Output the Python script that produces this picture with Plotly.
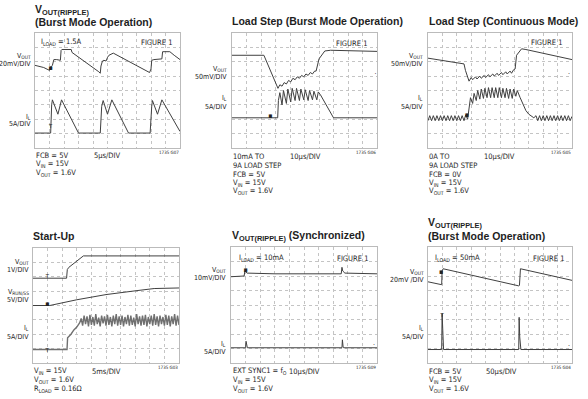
import plotly.graph_objects as go

W, H = 588, 399
FONT_T = "Liberation Sans, Arial, sans-serif"
FONT = "DejaVu Sans Condensed, Liberation Sans, sans-serif"
TXT = "#1e1e1e"
TRACE = "#404040"

# ---------------- data (scope divisions: x 0..10, y 0..8) ----------------
p1_vout_x = [0, 0.6, 1.0, 1.05, 1.2, 1.3, 1.5, 1.75, 1.8, 1.85, 2.5, 2.55, 4.4, 4.5, 4.55, 4.65, 4.75, 4.9, 5.0, 5.1, 5.4, 6.5, 7.9, 8.0, 8.05, 8.2, 8.5, 8.75, 8.8, 9.3, 9.6, 10]
p1_vout_y = [5.75, 5.6, 5.4, 5.6, 5.75, 6.15, 6.15, 6.1, 6.8, 6.85, 6.85, 6.65, 5.3, 5.2, 5.7, 6.05, 6.1, 6.05, 6.3, 6.45, 6.6, 6.0, 5.25, 5.5, 6.1, 6.15, 6.15, 6.2, 6.7, 6.7, 6.45, 6.15]
p1_il_x = [0, 1.08, 1.15, 1.2, 1.58, 1.83, 3.0, 4.5, 4.6, 4.7, 5.0, 5.3, 6.45, 7.94, 8.05, 8.1, 8.45, 8.75, 10]
p1_il_y = [1.04, 1.04, 3.0, 3.35, 2.35, 3.35, 1.04, 1.04, 2.9, 3.3, 2.35, 3.35, 1.04, 1.04, 2.9, 3.3, 2.35, 3.35, 1.15]

p2_vout_x = [0, 2.2, 3.17, 3.3, 3.45, 3.6, 3.75, 3.9, 4.05, 4.2, 4.35, 4.5, 4.65, 4.8, 4.95, 5.1, 5.25, 5.4, 5.55, 5.7, 5.8, 6.0, 6.4, 6.8, 10]
p2_vout_y = [6.45, 6.45, 4.15, 4.4, 4.3, 4.55, 4.45, 4.7, 4.6, 4.85, 4.75, 4.95, 4.85, 5.05, 4.95, 5.15, 5.05, 5.25, 5.15, 5.35, 5.35, 6.2, 6.75, 6.8, 6.72]
p2_il_x = [0, 3.15, 3.2, 3.3, 3.45, 3.55, 3.75, 3.85, 4.05, 4.15, 4.35, 4.45, 4.65, 4.75, 4.95, 5.05, 5.25, 5.35, 5.55, 5.65, 5.85, 5.95, 6.1, 7.0, 10]
p2_il_y = [2.1, 2.1, 3.3, 3.85, 3.0, 4.0, 3.1, 4.1, 3.2, 4.15, 3.3, 4.15, 3.3, 4.1, 3.35, 4.05, 3.3, 4.0, 3.35, 3.95, 3.35, 3.9, 3.7, 2.1, 2.1]

p3_vout_x = [0, 1.0, 2.0, 2.5, 2.6, 2.85, 3.0, 3.1, 3.3, 3.4, 3.6, 3.7, 3.9, 4.0, 4.2, 4.3, 4.5, 4.6, 4.8, 4.9, 5.1, 5.2, 5.4, 5.5, 5.7, 5.8, 5.95, 6.05, 6.15, 6.5, 6.8, 7.5, 8.2, 9.0, 10]
p3_vout_y = [6.25, 6.1, 5.95, 5.85, 5.4, 4.65, 4.9, 4.75, 4.95, 4.8, 5.0, 4.85, 5.05, 4.9, 5.1, 4.95, 5.15, 5.0, 5.2, 5.05, 5.25, 5.1, 5.3, 5.15, 5.35, 5.2, 5.45, 5.5, 6.45, 6.9, 6.85, 6.7, 6.55, 6.4, 6.15]
p3_il_x = [0, 0.12, 0.25, 0.37, 0.5, 0.62, 0.75, 0.87, 1.0, 1.12, 1.25, 1.37, 1.5, 1.62, 1.75, 1.87, 2.0, 2.12, 2.25, 2.37, 2.5, 2.62, 2.75,
           2.85, 2.95, 3.1, 3.2, 3.35, 3.45, 3.6, 3.7, 3.85, 3.95, 4.1, 4.2, 4.35, 4.45, 4.6, 4.7, 4.85, 4.95, 5.1, 5.2, 5.35, 5.45, 5.6, 5.7, 5.85, 5.95, 6.1, 6.2,
           6.4, 6.6, 6.8, 7.0, 7.2, 7.35, 7.5, 7.62, 7.75, 7.87, 8.0, 8.12, 8.25, 8.37, 8.5, 8.62, 8.75, 8.87, 9.0, 9.12, 9.25, 9.37, 9.5, 9.62, 9.75, 9.87, 10]
p3_il_y = [1.9, 2.25, 1.9, 2.25, 1.9, 2.25, 1.9, 2.25, 1.9, 2.25, 1.9, 2.25, 1.9, 2.25, 1.9, 2.25, 1.9, 2.25, 1.9, 2.25, 1.9, 2.3, 2.0,
           3.0, 3.5, 3.1, 3.8, 3.3, 4.0, 3.4, 4.1, 3.45, 4.15, 3.5, 4.2, 3.5, 4.2, 3.5, 4.2, 3.5, 4.2, 3.5, 4.15, 3.5, 4.15, 3.45, 4.1, 3.45, 4.1, 3.6, 4.0,
           3.5, 3.0, 2.6, 2.35, 2.2, 2.1, 2.25, 1.9, 2.25, 1.9, 2.25, 1.9, 2.25, 1.9, 2.25, 1.9, 2.25, 1.9, 2.25, 1.9, 2.25, 1.9, 2.25, 1.9, 2.25, 1.9, 2.2]

p4_vout_x = [0, 2.3, 2.35, 2.45, 3.45, 10]
p4_vout_y = [5.9, 5.9, 6.5, 6.65, 7.45, 7.45]
p4_run_x = [0, 1.15, 3.0, 5.0, 7.0, 8.3, 10]
p4_run_y = [4.0, 4.0, 4.4, 4.76, 5.02, 5.18, 5.22]
p4_il_x = [0, 2.33, 2.37, 2.6, 2.8, 3.0, 3.2,
           3.3, 3.4, 3.5, 3.6, 3.7, 3.8, 3.9, 4.0, 4.1, 4.2, 4.3, 4.4, 4.5, 4.6, 4.7, 4.8, 4.9, 5.0, 5.1, 5.2, 5.3, 5.4, 5.5, 5.6, 5.7, 5.8, 5.9, 6.0,
           6.1, 6.2, 6.3, 6.4, 6.5, 6.6, 6.7, 6.8, 6.9, 7.0, 7.1, 7.2, 7.3, 7.4, 7.5, 7.6, 7.7, 7.8, 7.9, 8.0, 8.1, 8.2, 8.3, 8.4, 8.5, 8.6, 8.7, 8.8, 8.9, 9.0,
           9.1, 9.2, 9.3, 9.4, 9.5, 9.6, 9.7, 9.8, 9.9, 10]
p4_il_y = [0.94, 0.94, 1.75, 2.0, 2.3, 2.5, 2.8,
           3.1, 2.6, 3.3, 2.7, 3.25, 2.55, 3.35, 2.65, 3.2, 2.6, 3.4, 2.7, 3.15, 2.55, 3.3, 2.75, 3.25, 2.6, 3.35, 2.65, 3.2, 2.55, 3.3, 2.7, 3.4, 2.6, 3.25, 2.65,
           3.3, 2.55, 3.2, 2.7, 3.35, 2.6, 3.3, 2.65, 3.15, 2.55, 3.4, 2.7, 3.25, 2.6, 3.3, 2.65, 3.35, 2.55, 3.2, 2.7, 3.3, 2.6, 3.4, 2.65, 3.25, 2.55, 3.3, 2.7, 3.2, 2.6,
           3.35, 2.65, 3.3, 2.55, 3.25, 2.7, 3.4, 2.6, 3.3, 2.65]

p5_vout_x = [0, 0.9, 0.95, 1.0, 1.1, 3.0, 5.0, 7.55, 7.6, 7.65, 7.8, 10]
p5_vout_y = [5.95, 6.0, 6.35, 6.3, 6.2, 6.15, 6.15, 6.15, 6.6, 6.35, 6.2, 6.15]
p5_il_x = [0, 1.0, 1.03, 1.08, 1.12, 7.6, 7.63, 7.68, 7.72, 10]
p5_il_y = [1.05, 1.05, 1.5, 1.1, 1.05, 1.05, 1.6, 1.1, 1.05, 1.05]

p6_vout_x = [0, 0.95, 0.98, 1.05, 6.3, 6.35, 6.42, 10]
p6_vout_y = [5.6, 5.4, 6.35, 6.5, 5.32, 5.35, 6.5, 5.7]
p6_il_x = [0, 0.95, 0.98, 1.02, 1.08, 6.3, 6.33, 6.37, 6.45, 10]
p6_il_y = [0.93, 0.93, 3.4, 2.0, 0.93, 0.93, 3.15, 1.8, 0.93, 0.93]

# scope channel reference markers (per panel): x, y, glyph
mk_x = [[1.08, 1.08], [2.64, 9.9], [2.7, 9.8], [0.98, 0.98, 0.98], [1.0, 9.8], [0.92, 0.97, 9.8]]
mk_y = [[5.56, 1.5], [2.2, 5.1], [2.3, 5.1], [6.02, 4.08, 0.9], [6.43, 1.2], [6.24, 3.3, 1.15]]
mk_t = [["▪", "т"], ["▪", "·"], ["▪", "·"], ["т", "▪", "т"], ["▪", "·"], ["▪", "т", "·"]]

boxes = [(35, 180, 33, 148), (232, 377, 33, 148), (428, 572, 33, 148),
         (33, 179, 248, 363), (231, 377, 247, 363), (428, 572, 247, 363)]

traces = [
    [(p1_vout_x, p1_vout_y), (p1_il_x, p1_il_y)],
    [(p2_vout_x, p2_vout_y), (p2_il_x, p2_il_y)],
    [(p3_vout_x, p3_vout_y), (p3_il_x, p3_il_y)],
    [(p4_vout_x, p4_vout_y), (p4_run_x, p4_run_y), (p4_il_x, p4_il_y)],
    [(p5_vout_x, p5_vout_y), (p5_il_x, p5_il_y)],
    [(p6_vout_x, p6_vout_y), (p6_il_x, p6_il_y)],
]

fig = go.Figure()
layout = dict(width=W, height=H, margin=dict(l=0, r=0, t=0, b=0), autosize=False,
              paper_bgcolor="white", plot_bgcolor="white", showlegend=False)

for i, (bx, tr) in enumerate(zip(boxes, traces)):
    n = "" if i == 0 else str(i + 1)
    x0, x1, y0, y1 = bx
    common = dict(dtick=1, showgrid=True, gridcolor="#c4c4c4", griddash="dot", gridwidth=1,
                  showline=True, mirror=True, linecolor="#bbbbbb", linewidth=1,
                  showticklabels=False, ticks="", zeroline=False, fixedrange=True)
    layout["xaxis" + n] = dict(domain=[x0 / W, x1 / W], range=[0, 10], anchor="y" + n, **common)
    layout["yaxis" + n] = dict(domain=[1 - y1 / H, 1 - y0 / H], range=[0, 8], anchor="x" + n, **common)
    for k, (xs, ys) in enumerate(tr):
        w = 1.4 if (i == 3 and k == 2) else 1
        col = "#707070" if (i == 3 and k == 2) else TRACE
        fig.add_trace(go.Scatter(x=xs, y=ys, mode="lines", line=dict(color=col, width=w),
                                 xaxis="x" + n, yaxis="y" + n, hoverinfo="skip"))
    fig.add_trace(go.Scatter(x=mk_x[i], y=mk_y[i], mode="text", text=mk_t[i],
                             textfont=dict(family=FONT, size=7, color="#222"),
                             xaxis="x" + n, yaxis="y" + n, hoverinfo="skip"))

fig.update_layout(**layout)

anns = []
def A(x, y, text, size=7.5, xa="left", bold=False, fam=None):
    if bold:
        text = "<b>" + text + "</b>"
    anns.append(dict(x=x / W, y=1 - y / H, xref="paper", yref="paper", text=text, showarrow=False,
                     xanchor=xa, yanchor="middle", align=xa, borderpad=0,
                     font=dict(family=fam or FONT, size=size, color=TXT)))

TS = 10.5
def T(x, y, text):
    A(x, y, text, TS, bold=True, fam=FONT_T)

T(34, 10, "V<sub>OUT(RIPPLE)</sub>")
T(34, 22, "(Burst Mode Operation)")
T(231, 21, "Load Step (Burst Mode Operation)")
T(428, 21, "Load Step (Continuous Mode)")
T(32, 236, "Start-Up")
T(231, 236, "V<sub>OUT(RIPPLE)</sub> (Synchronized)")
T(427, 223, "V<sub>OUT(RIPPLE)</sub>")
T(427, 236, "(Burst Mode Operation)")

LS = 7
A(32, 56, "V<sub>OUT</sub>", LS, xa="right"); A(32, 64, "20mV/DIV", LS, xa="right")
A(32, 117, "I<sub>L</sub>", LS, xa="right"); A(32, 124, "5A/DIV", LS, xa="right")
A(228, 69, "V<sub>OUT</sub>", LS, xa="right"); A(228, 77, "50mV/DIV", LS, xa="right")
A(228, 98, "I<sub>L</sub>", LS, xa="right"); A(228, 107, "5A/DIV", LS, xa="right")
A(424, 56, "V<sub>OUT</sub>", LS, xa="right"); A(424, 64, "50mV/DIV", LS, xa="right")
A(424, 98, "I<sub>L</sub>", LS, xa="right"); A(424, 107, "5A/DIV", LS, xa="right")
A(30, 262, "V<sub>OUT</sub>", LS, xa="right"); A(30, 270, "1V/DIV", LS, xa="right")
A(30, 292, "V<sub>RUN/SS</sub>", LS, xa="right"); A(30, 300, "5V/DIV", LS, xa="right")
A(30, 328, "I<sub>L</sub>", LS, xa="right"); A(30, 337, "5A/DIV", LS, xa="right")
A(227, 270, "V<sub>OUT</sub>", LS, xa="right"); A(227, 278, "10mV/DIV", LS, xa="right")
A(227, 344, "I<sub>L</sub>", LS, xa="right"); A(227, 352, "5A/DIV", LS, xa="right")
A(425, 272, "V<sub>OUT</sub>", LS, xa="right"); A(425, 280, "20mV /DIV", LS, xa="right")
A(425, 328, "I<sub>L</sub>", LS, xa="right"); A(425, 337, "5A/DIV", LS, xa="right")

A(40, 42, "I<sub>LOAD</sub> = 1.5A"); A(173, 42, "FIGURE 1", xa="right")
A(368, 43, "FIGURE 1", xa="right")
A(563, 42, "FIGURE 1", xa="right")
A(238, 258, "I<sub>LOAD</sub> = 10mA"); A(369, 258, "FIGURE 1", xa="right")
A(434, 258, "I<sub>LOAD</sub> = 50mA"); A(565, 258, "FIGURE 1", xa="right")

A(35, 155, "FCB = 5V"); A(35, 164, "V<sub>IN</sub> = 15V"); A(35, 173, "V<sub>OUT</sub> = 1.6V")
A(107, 155, "5μs/DIV", xa="center")
A(232, 157, "10mA TO"); A(232, 165.5, "9A LOAD STEP"); A(232, 174, "FCB = 5V")
A(232, 182.5, "V<sub>IN</sub> = 15V"); A(232, 191, "V<sub>OUT</sub> = 1.6V")
A(305, 157, "10μs/DIV", xa="center")
A(428, 157, "0A TO"); A(428, 165.5, "9A LOAD STEP"); A(428, 174, "FCB = 0V")
A(428, 182.5, "V<sub>IN</sub> = 15V"); A(428, 191, "V<sub>OUT</sub> = 1.6V")
A(500, 157, "10μs/DIV", xa="center")
A(33, 371, "V<sub>IN</sub> = 15V"); A(33, 380, "V<sub>OUT</sub> = 1.6V"); A(33, 389, "R<sub>LOAD</sub> = 0.16Ω")
A(106, 371, "5ms/DIV", xa="center")
A(232, 371, "EXT SYNC1 = f<sub>O</sub>"); A(232, 380, "V<sub>IN</sub> = 15V"); A(232, 389, "V<sub>OUT</sub> = 1.6V")
A(304, 371, "10μs/DIV", xa="center")
A(428, 371, "FCB = 5V"); A(428, 380, "V<sub>IN</sub> = 15V"); A(428, 389, "V<sub>OUT</sub> = 1.6V")
A(501, 371, "50μs/DIV", xa="center")

for (x, y, t) in [(180, 152, "1735 G07"), (377, 152, "1735 G06"), (572, 152, "1735 G05"),
                  (179, 367, "1735 G03"), (377, 367, "1735 G09"), (572, 367, "1735 G04")]:
    A(x, y, t, size=4.5, xa="right")

fig.update_layout(annotations=anns)
fig.write_html("out.html", config={"displayModeBar": False},
               post_script="document.body.style.margin='0px';document.body.style.overflow='hidden';")
